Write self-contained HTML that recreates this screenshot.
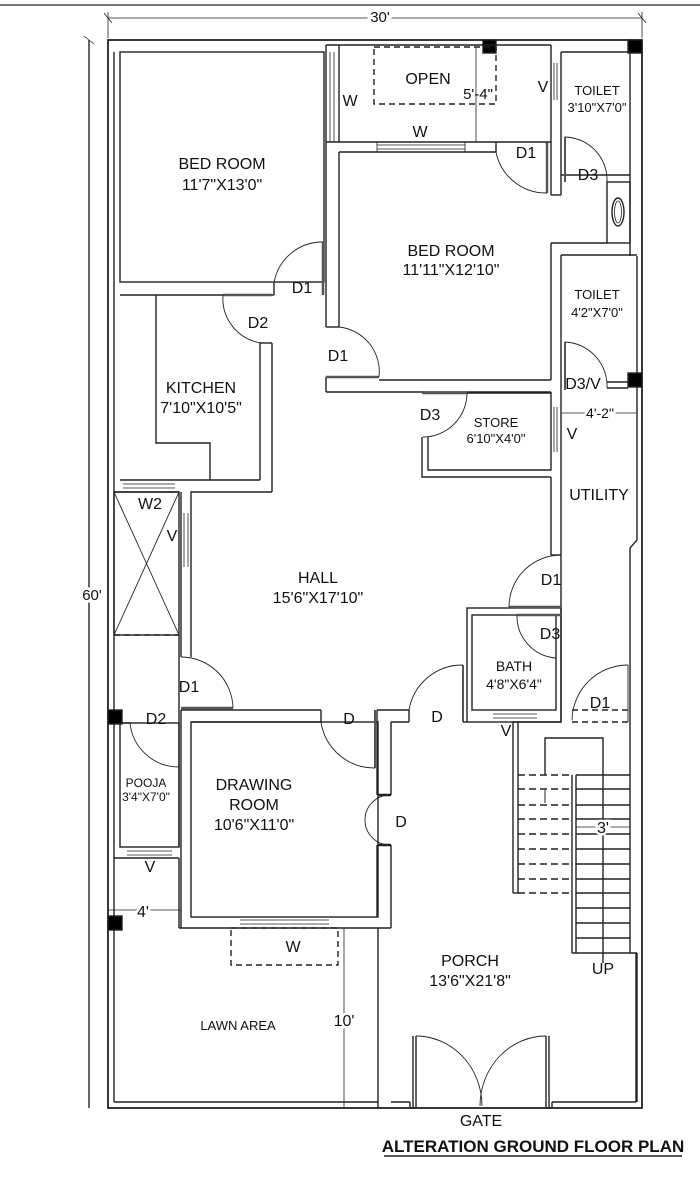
<!DOCTYPE html>
<html><head><meta charset="utf-8"><style>
html,body{margin:0;padding:0;background:#fff;width:700px;height:1183px;overflow:hidden}
svg{display:block}
text{font-family:"Liberation Sans",Arial,sans-serif;fill:#111;text-anchor:middle}
</style></head><body>
<svg width="700" height="1183" viewBox="0 0 700 1183" xmlns="http://www.w3.org/2000/svg">
<g stroke="#222" stroke-width="1.4" fill="none">
<line x1="0" y1="5" x2="700" y2="5" stroke="#777" stroke-width="2"/>
<line x1="108" y1="18" x2="642" y2="18" stroke-width="0.8"/>
<line x1="108" y1="12" x2="108" y2="38" stroke-width="0.8"/>
<line x1="642" y1="12" x2="642" y2="38" stroke-width="0.8"/>
<line x1="89" y1="40" x2="89" y2="1108" stroke="#666" stroke-width="2"/>
<line x1="84" y1="36" x2="94" y2="44" stroke-width="0.8"/>
<line x1="104" y1="13" x2="112" y2="23" stroke-width="0.8"/>
<line x1="638" y1="13" x2="646" y2="23" stroke-width="0.8"/>
<rect x="108" y="40" width="534" height="1068" stroke-width="1.8"/>
<line x1="114" y1="52" x2="114" y2="1102"/>
<line x1="114" y1="1102" x2="378" y2="1102"/>
<line x1="391" y1="1102" x2="410" y2="1102"/>
<line x1="552" y1="1102" x2="636" y2="1102"/>
<line x1="636" y1="953" x2="636" y2="1102"/>
<line x1="630" y1="52" x2="630" y2="256"/>
<line x1="637" y1="256" x2="637" y2="540"/>
<line x1="637" y1="540" x2="630" y2="548"/>
<line x1="630" y1="548" x2="630" y2="722"/>
<line x1="630" y1="722" x2="630" y2="953"/>
<line x1="637" y1="953" x2="637" y2="1102"/>
<rect x="483" y="40" width="13" height="13" fill="#000"/>
<rect x="628" y="40" width="14" height="13" fill="#000"/>
<rect x="628" y="373" width="14" height="14" fill="#000"/>
<rect x="108" y="710" width="14" height="14" fill="#000"/>
<rect x="108" y="916" width="14" height="14" fill="#000"/>
<rect x="120" y="52" width="204" height="230"/>
<line x1="326" y1="45" x2="326" y2="142"/>
<line x1="339" y1="45" x2="339" y2="142"/>
<line x1="330" y1="52" x2="330" y2="142" stroke-width="0.8"/>
<line x1="334" y1="52" x2="334" y2="142" stroke-width="0.8"/>
<line x1="326" y1="45" x2="551" y2="45"/>
<rect x="374" y="47" width="122" height="57" stroke-dasharray="6,4"/>
<line x1="476" y1="47" x2="476" y2="142" stroke-width="0.8"/>
<line x1="326" y1="142" x2="496" y2="142"/>
<line x1="339" y1="152" x2="496" y2="152"/>
<line x1="496" y1="142" x2="496" y2="152"/>
<line x1="377" y1="145" x2="465" y2="145" stroke-width="0.8"/>
<line x1="377" y1="149" x2="465" y2="149" stroke-width="0.8"/>
<line x1="377" y1="142" x2="377" y2="152" stroke-width="0.8"/>
<line x1="465" y1="142" x2="465" y2="152" stroke-width="0.8"/>
<line x1="547" y1="142" x2="547" y2="193" stroke-width="2.5" stroke="#555"/>
<path d="M496 152 A51 51 0 0 0 547 193" stroke-width="0.9"/>
<line x1="496" y1="142" x2="551" y2="142"/>
<line x1="551" y1="45" x2="551" y2="195"/>
<line x1="561" y1="52" x2="561" y2="195"/>
<line x1="551" y1="195" x2="561" y2="195"/>
<line x1="554" y1="63" x2="554" y2="100" stroke-width="0.8"/>
<line x1="557" y1="63" x2="557" y2="100" stroke-width="0.8"/>
<line x1="561" y1="52" x2="630" y2="52"/>
<line x1="561" y1="175" x2="630" y2="175"/>
<line x1="565" y1="137" x2="565" y2="182" stroke-width="2" stroke="#555"/>
<path d="M565 137 A43 43 0 0 1 607 182" stroke-width="0.9"/>
<rect x="607" y="182" width="23" height="61"/>
<ellipse cx="618" cy="212" rx="6" ry="14"/>
<ellipse cx="618" cy="212" rx="3.5" ry="11" stroke-width="0.8"/>
<line x1="326" y1="142" x2="326" y2="327"/>
<line x1="339" y1="152" x2="339" y2="327"/>
<line x1="326" y1="327" x2="339" y2="327"/>
<line x1="551" y1="243" x2="607" y2="243"/>
<line x1="551" y1="243" x2="551" y2="380"/>
<line x1="561" y1="255" x2="561" y2="722"/>
<line x1="561" y1="255" x2="637" y2="255"/>
<line x1="379" y1="380" x2="551" y2="380"/>
<line x1="326" y1="392" x2="551" y2="392"/>
<line x1="326" y1="377" x2="326" y2="392"/>
<line x1="326" y1="377" x2="379" y2="377" stroke-width="2.5" stroke="#555"/>
<path d="M339 327 A45 45 0 0 1 379 377" stroke-width="0.9"/>
<line x1="565" y1="342" x2="565" y2="390" stroke-width="2" stroke="#555"/>
<path d="M565 342 A44 44 0 0 1 607 388" stroke-width="0.9"/>
<line x1="607" y1="382" x2="628" y2="382"/>
<line x1="607" y1="388" x2="628" y2="388"/>
<line x1="323" y1="242" x2="323" y2="295" stroke-width="2.5" stroke="#555"/>
<path d="M323 242 A49 49 0 0 0 274 283" stroke-width="0.9"/>
<line x1="274" y1="283" x2="274" y2="295"/>
<line x1="120" y1="295" x2="274" y2="295"/>
<line x1="223" y1="295" x2="272" y2="295" stroke-width="2.5" stroke="#555"/>
<path d="M223 295 A45 45 0 0 0 261 343" stroke-width="0.9"/>
<polyline points="156,295 156,443 210,443 210,480"/>
<line x1="260" y1="343" x2="260" y2="480"/>
<line x1="272" y1="343" x2="272" y2="492"/>
<line x1="260" y1="343" x2="272" y2="343"/>
<line x1="120" y1="480" x2="260" y2="480"/>
<polyline points="114,492 179,492"/>
<polyline points="191,657 191,492 272,492"/>
<line x1="181" y1="492" x2="181" y2="657"/>
<line x1="123" y1="484" x2="175" y2="484" stroke-width="0.8"/>
<line x1="123" y1="488" x2="175" y2="488" stroke-width="0.8"/>
<line x1="184" y1="513" x2="184" y2="567" stroke-width="0.8"/>
<line x1="188" y1="513" x2="188" y2="567" stroke-width="0.8"/>
<rect x="114" y="492" width="65" height="143"/>
<line x1="114" y1="492" x2="179" y2="635" stroke-width="0.9"/>
<line x1="179" y1="492" x2="114" y2="635" stroke-width="0.9"/>
<line x1="114" y1="635" x2="179" y2="635" stroke-dasharray="6,4"/>
<line x1="179" y1="635" x2="179" y2="847"/>
<line x1="181" y1="708" x2="233" y2="708" stroke-width="2.5" stroke="#555"/>
<path d="M181 657 A52 52 0 0 1 233 708" stroke-width="0.9"/>
<path d="M130 723 A49 49 0 0 0 179 767" stroke-width="0.9"/>
<line x1="122" y1="723" x2="130" y2="723"/>
<rect x="120" y="723" width="59" height="124"/>
<line x1="127" y1="851" x2="172" y2="851" stroke-width="0.8"/>
<line x1="127" y1="855" x2="172" y2="855" stroke-width="0.8"/>
<line x1="114" y1="858" x2="179" y2="858"/>
<line x1="179" y1="858" x2="179" y2="928"/>
<line x1="181" y1="710" x2="321" y2="710"/>
<line x1="191" y1="722" x2="321" y2="722"/>
<line x1="321" y1="710" x2="321" y2="722"/>
<line x1="181" y1="710" x2="181" y2="928"/>
<rect x="191" y="722" width="187" height="195"/>
<line x1="375" y1="710" x2="375" y2="768" stroke-width="2" stroke="#555"/>
<path d="M321 722 A54 54 0 0 0 375 768" stroke-width="0.9"/>
<line x1="377" y1="710" x2="409" y2="710"/>
<line x1="391" y1="722" x2="409" y2="722"/>
<line x1="409" y1="710" x2="409" y2="722"/>
<line x1="391" y1="722" x2="391" y2="795"/>
<line x1="391" y1="845" x2="391" y2="928"/>
<line x1="377" y1="710" x2="377" y2="795"/>
<line x1="377" y1="845" x2="377" y2="917"/>
<path d="M390 795 A25 25 0 0 0 365 820" stroke-width="0.9"/>
<path d="M390 845 A25 25 0 0 1 365 820" stroke-width="0.9"/>
<line x1="378" y1="795" x2="391" y2="795" stroke-width="2.5"/>
<line x1="378" y1="845" x2="391" y2="845" stroke-width="2.5"/>
<line x1="179" y1="928" x2="391" y2="928"/>
<line x1="240" y1="920" x2="329" y2="920" stroke-width="0.8"/>
<line x1="240" y1="924" x2="329" y2="924" stroke-width="0.8"/>
<rect x="231" y="928" width="107" height="37" stroke-dasharray="6,4"/>
<line x1="344" y1="928" x2="344" y2="1108" stroke-width="0.8"/>
<line x1="378" y1="928" x2="378" y2="1108"/>
<line x1="108" y1="910" x2="181" y2="910" stroke-width="0.8"/>
<line x1="463" y1="665" x2="463" y2="722" stroke-width="2" stroke="#555"/>
<path d="M409 710 A54 54 0 0 1 463 665" stroke-width="0.9"/>
<line x1="463" y1="722" x2="467" y2="722"/>
<rect x="467" y="608" width="94" height="114"/>
<rect x="472" y="615" width="84" height="95"/>
<line x1="493" y1="714" x2="537" y2="714" stroke-width="0.8"/>
<line x1="493" y1="718" x2="537" y2="718" stroke-width="0.8"/>
<line x1="517" y1="615" x2="561" y2="615" stroke-width="2.5" stroke="#555"/>
<path d="M517 615 A42 42 0 0 0 556 658" stroke-width="0.9"/>
<line x1="509" y1="607" x2="561" y2="607" stroke-width="2.5" stroke="#555"/>
<path d="M561 555 A52 52 0 0 0 509 607" stroke-width="0.9"/>
<line x1="551" y1="477" x2="551" y2="555"/>
<line x1="551" y1="555" x2="561" y2="555"/>
<polyline points="551,392 551,470 428,470 428,437"/>
<line x1="428" y1="393" x2="551" y2="393"/>
<line x1="422" y1="393" x2="467" y2="393" stroke-width="2.5" stroke="#555"/>
<path d="M467 393 A44 44 0 0 1 423 437" stroke-width="0.9"/>
<polyline points="422,437 422,477 551,477"/>
<line x1="554" y1="407" x2="554" y2="452" stroke-width="0.8"/>
<line x1="557" y1="407" x2="557" y2="452" stroke-width="0.8"/>
<line x1="561" y1="413" x2="637" y2="413" stroke-width="0.8"/>
<path d="M628 665 A56 56 0 0 0 572 720" stroke-width="0.9"/>
<line x1="628" y1="665" x2="628" y2="722" stroke-width="0.9"/>
<line x1="572" y1="710" x2="630" y2="710" stroke-dasharray="6,4"/>
<line x1="572" y1="722" x2="630" y2="722" stroke-dasharray="6,4"/>
<line x1="513" y1="722" x2="513" y2="893"/>
<line x1="518" y1="722" x2="518" y2="893"/>
<line x1="513" y1="722" x2="561" y2="722"/>
<line x1="513" y1="893" x2="518" y2="893"/>
<polyline points="545,775 545,738 603,738 603,963"/>
<line x1="572" y1="775" x2="572" y2="953"/>
<line x1="576" y1="775" x2="576" y2="953"/>
<line x1="572" y1="953" x2="637" y2="953"/>
<g stroke-dasharray="7,4">
<line x1="518" y1="775" x2="572" y2="775"/><line x1="518" y1="789" x2="572" y2="789"/>
<line x1="518" y1="805" x2="572" y2="805"/><line x1="518" y1="819" x2="572" y2="819"/>
<line x1="518" y1="834" x2="572" y2="834"/><line x1="518" y1="849" x2="572" y2="849"/>
<line x1="518" y1="864" x2="572" y2="864"/><line x1="518" y1="879" x2="572" y2="879"/>
<line x1="518" y1="893" x2="572" y2="893"/>
</g>
<g>
<line x1="576" y1="775" x2="630" y2="775"/><line x1="576" y1="789" x2="630" y2="789"/>
<line x1="576" y1="805" x2="630" y2="805"/><line x1="576" y1="819" x2="630" y2="819"/>
<line x1="576" y1="834" x2="630" y2="834"/><line x1="576" y1="849" x2="630" y2="849"/>
<line x1="576" y1="864" x2="630" y2="864"/><line x1="576" y1="879" x2="630" y2="879"/>
<line x1="576" y1="893" x2="630" y2="893"/><line x1="576" y1="908" x2="630" y2="908"/>
<line x1="576" y1="923" x2="630" y2="923"/><line x1="576" y1="938" x2="630" y2="938"/>
</g>
<line x1="545" y1="790" x2="545" y2="803" stroke-width="1"/>
<line x1="576" y1="827" x2="630" y2="827" stroke-width="0.8"/>
<line x1="410" y1="1102" x2="410" y2="1108"/>
<line x1="552" y1="1102" x2="552" y2="1108"/>
<line x1="413" y1="1036" x2="413" y2="1108"/>
<line x1="416" y1="1036" x2="416" y2="1108"/>
<line x1="546" y1="1036" x2="546" y2="1108"/>
<line x1="549" y1="1036" x2="549" y2="1108"/>
<path d="M416 1036 A66 70 0 0 1 482 1106" stroke-width="0.9"/>
<path d="M546 1036 A66 70 0 0 0 480 1106" stroke-width="0.9"/>
<line x1="384" y1="1156" x2="682" y2="1156" stroke-width="1.5"/>
</g>
<g font-size="16">
<text x="380" y="22" font-size="15" stroke="#fff" stroke-width="6" style="paint-order:stroke">30'</text>
<text x="92" y="600" font-size="15" stroke="#fff" stroke-width="6" style="paint-order:stroke">60'</text>
<text x="222" y="169">BED ROOM</text>
<text x="222" y="190">11'7"X13'0"</text>
<text x="428" y="84">OPEN</text>
<text x="478" y="99" font-size="15">5'-4"</text>
<text x="350" y="106">W</text>
<text x="420" y="137">W</text>
<text x="543" y="92">V</text>
<text x="597" y="95" font-size="13">TOILET</text>
<text x="597" y="112" font-size="13">3'10"X7'0"</text>
<text x="526" y="158">D1</text>
<text x="588" y="180">D3</text>
<text x="451" y="256">BED ROOM</text>
<text x="451" y="275">11'11"X12'10"</text>
<text x="302" y="293">D1</text>
<text x="258" y="328">D2</text>
<text x="338" y="361">D1</text>
<text x="597" y="299" font-size="13">TOILET</text>
<text x="597" y="317" font-size="13">4'2"X7'0"</text>
<text x="583" y="389">D3/V</text>
<text x="430" y="420">D3</text>
<text x="496" y="427" font-size="13">STORE</text>
<text x="496" y="443" font-size="13">6'10"X4'0"</text>
<text x="572" y="439">V</text>
<text x="600" y="418" font-size="14" stroke="#fff" stroke-width="5" style="paint-order:stroke">4'-2"</text>
<text x="201" y="393">KITCHEN</text>
<text x="201" y="413">7'10"X10'5"</text>
<text x="599" y="500">UTILITY</text>
<text x="150" y="509">W2</text>
<text x="172" y="541">V</text>
<text x="318" y="583">HALL</text>
<text x="318" y="603">15'6"X17'10"</text>
<text x="551" y="585">D1</text>
<text x="550" y="639">D3</text>
<text x="514" y="671" font-size="14">BATH</text>
<text x="514" y="689" font-size="14">4'8"X6'4"</text>
<text x="189" y="692">D1</text>
<text x="156" y="724">D2</text>
<text x="349" y="724">D</text>
<text x="437" y="722">D</text>
<text x="506" y="736">V</text>
<text x="600" y="708">D1</text>
<text x="146" y="787" font-size="12">POOJA</text>
<text x="146" y="801" font-size="12">3'4"X7'0"</text>
<text x="254" y="790">DRAWING</text>
<text x="254" y="810">ROOM</text>
<text x="254" y="830">10'6"X11'0"</text>
<text x="401" y="827">D</text>
<text x="150" y="872">V</text>
<text x="143" y="917" stroke="#fff" stroke-width="5" style="paint-order:stroke">4'</text>
<text x="603" y="833" stroke="#fff" stroke-width="5" style="paint-order:stroke">3'</text>
<text x="293" y="952">W</text>
<text x="603" y="974">UP</text>
<text x="470" y="966">PORCH</text>
<text x="470" y="986">13'6"X21'8"</text>
<text x="238" y="1030" font-size="13">LAWN AREA</text>
<text x="344" y="1026" stroke="#fff" stroke-width="5" style="paint-order:stroke">10'</text>
<text x="481" y="1126">GATE</text>
<text x="533" y="1152" font-size="17" font-weight="bold">ALTERATION GROUND FLOOR PLAN</text>
</g>
</svg>
</body></html>
